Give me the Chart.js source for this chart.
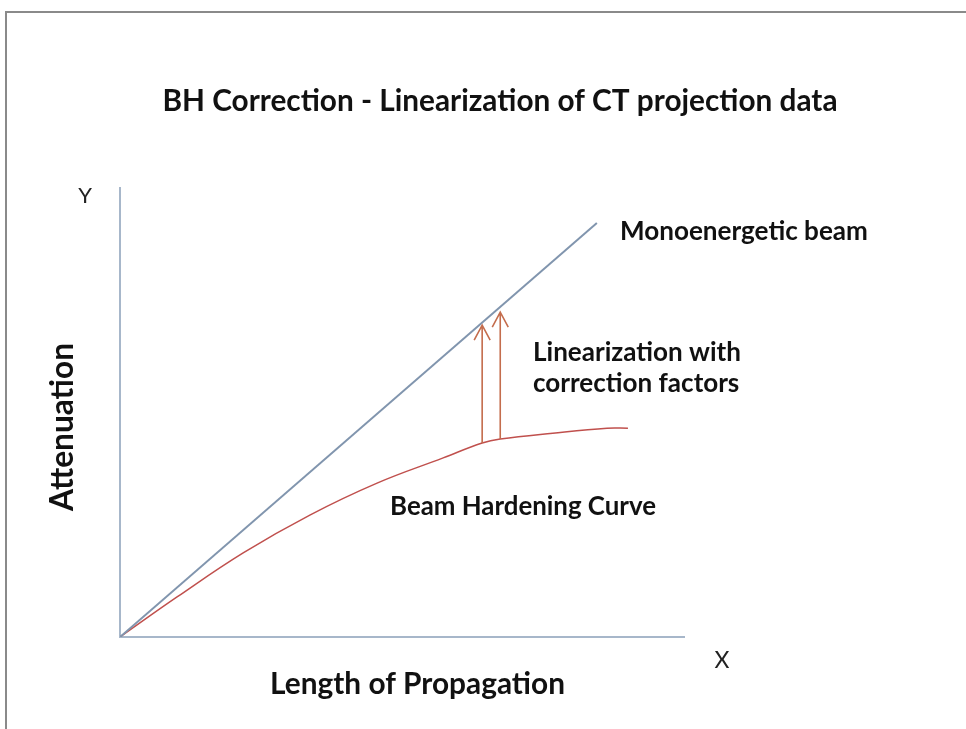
<!DOCTYPE html>
<html>
<head>
<meta charset="utf-8">
<title>BH Correction</title>
<script src="https://cdn.jsdelivr.net/npm/chart.js@4/dist/chart.umd.min.js"></script>
<style>
    html, body { margin:0; padding:0; background:#ffffff; }
    #wrap { position:relative; width:966px; height:729px; overflow:hidden; }
    #frame { position:absolute; left:5px; top:11px; right:-4px; bottom:-4px; border-top:2px solid #8a8a8a; border-left:2px solid #8a8a8a; }
    canvas { position:absolute; left:0; top:0; }
</style>
</head>
<body>
<div id="wrap">
    <div id="frame"></div>
    <canvas id="grafico" width="966" height="729"></canvas>
</div>
<script>
"use strict";

/* =========================
   DADOS
========================= */

const monoX = [0, 84.4];
const monoY = [0, 92.0];

const curvaX = [0, 10.1, 21.8, 33.6, 45.5, 57.2, 64.1, 67.3, 76.6, 86.2, 89.9];
const curvaY = [0, 8.9, 18.7, 27.1, 34.2, 39.8, 43.1, 44.0, 45.3, 46.4, 46.4];

const setaX = [64.1, 67.3];
const setaDe = [43.1, 44.0];
const setaAte = [69.3, 72.2];

const textos = ["Monoenergetic beam", "Linearization with", "correction factors", "Beam Hardening Curve"];
const textosX = [88.5, 73.1, 73.1, 47.8];
const textosY = [90.0, 63.3, 56.4, 28.9];

const titulo = "BH Correction - Linearization of CT projection data";
const tituloEixoX = "Length of Propagation";
const tituloEixoY = "Attenuation";

/* =========================
   HELPERS
========================= */

function pontos(xs, ys){

    return xs.map(function(x, i){
        return { x:x, y:ys[i] };
    });

}

// fonte em negrito ajustada para ocupar a largura pedida
function fonteAjustada(ctx, str, largura){

    ctx.save();
    ctx.font = "bold 20px Lato";
    const w = ctx.measureText(str).width;
    ctx.restore();

    return "bold " + (20 * largura / w).toFixed(2) + "px Lato";

}

function texto(ctx, str, x, y, fonte, alinhar, cor){

    ctx.save();
    ctx.font = fonte;
    ctx.fillStyle = cor || "#111111";
    ctx.textAlign = alinhar || "left";
    ctx.textBaseline = "middle";
    ctx.fillText(str, x, y);
    ctx.restore();

}

/* =========================
   PLUGIN DESENHO
========================= */

const desenho = {

    id:"desenho",

    beforeDatasetsDraw(chart){

        const ctx = chart.ctx;
        const a = chart.chartArea;

        ctx.save();
        ctx.strokeStyle = "#a7b7ca";
        ctx.lineWidth = 2;
        ctx.beginPath();
        ctx.moveTo(a.left, a.top);
        ctx.lineTo(a.left, a.bottom);
        ctx.lineTo(a.right, a.bottom);
        ctx.stroke();
        ctx.restore();

    },

    afterDatasetsDraw(chart){

        const ctx = chart.ctx;
        const sx = chart.scales.x;
        const sy = chart.scales.y;
        const a = chart.chartArea;

        // setas
        ctx.save();
        ctx.strokeStyle = "#c46d4d";
        ctx.lineWidth = 1.6;

        setaX.forEach(function(v, i){

            const px = sx.getPixelForValue(v);
            const y0 = sy.getPixelForValue(setaDe[i]);
            const y1 = sy.getPixelForValue(setaAte[i]);

            ctx.beginPath();
            ctx.moveTo(px, y0);
            ctx.lineTo(px, y1);
            ctx.moveTo(px - 8, y1 + 15);
            ctx.lineTo(px, y1);
            ctx.lineTo(px + 8, y1 + 15);
            ctx.stroke();

        });

        ctx.restore();

        // textos
        const larguras = [248, 208, 208, 266];

        textos.forEach(function(t, i){
            const f = (i === 2) ? fonteAjustada(ctx, textos[1], larguras[1]) : fonteAjustada(ctx, t, larguras[i]);
            texto(ctx, t, sx.getPixelForValue(textosX[i]), sy.getPixelForValue(textosY[i]), f, "left");
        });

        texto(ctx, titulo, 500, 101, fonteAjustada(ctx, titulo, 675), "center");
        texto(ctx, tituloEixoX, (a.left + a.right) / 2 + 15, a.bottom + 47, fonteAjustada(ctx, tituloEixoX, 295), "center");
        texto(ctx, "Y", a.left - 35, a.top + 9, "22px Lato", "center", "#222222");
        texto(ctx, "X", a.right + 37, a.bottom + 24, "23px Lato", "center", "#222222");

        ctx.save();
        ctx.translate(a.left - 57, (a.top + a.bottom) / 2 + 15);
        ctx.rotate(-Math.PI / 2);
        texto(ctx, tituloEixoY, 0, 0, fonteAjustada(ctx, tituloEixoY, 168), "center");
        ctx.restore();

    }

};

/* =========================
   GRAFICO
========================= */

new Chart(document.getElementById("grafico"), {

    type:"line",

    data:{

        datasets:[

            {
                label:"Monoenergetic beam",
                data:pontos(monoX, monoY),
                borderColor:"#8195ae",
                borderWidth:2,
                pointRadius:0,
                tension:0
            },

            {
                label:"Beam Hardening Curve",
                data:pontos(curvaX, curvaY),
                borderColor:"#c0504d",
                borderWidth:1.5,
                pointRadius:0,
                tension:0.4
            }

        ]

    },

    options:{

        responsive:false,
        animation:false,

        layout:{
            padding:{ left:120, right:281, top:187, bottom:92 }
        },

        plugins:{
            legend:{ display:false },
            tooltip:{ enabled:false },
            title:{ display:false }
        },

        scales:{
            x:{ type:"linear", min:0, max:100, display:false },
            y:{ type:"linear", min:0, max:100, display:false }
        }

    },

    plugins:[desenho]

});
</script>
</body>
</html>
